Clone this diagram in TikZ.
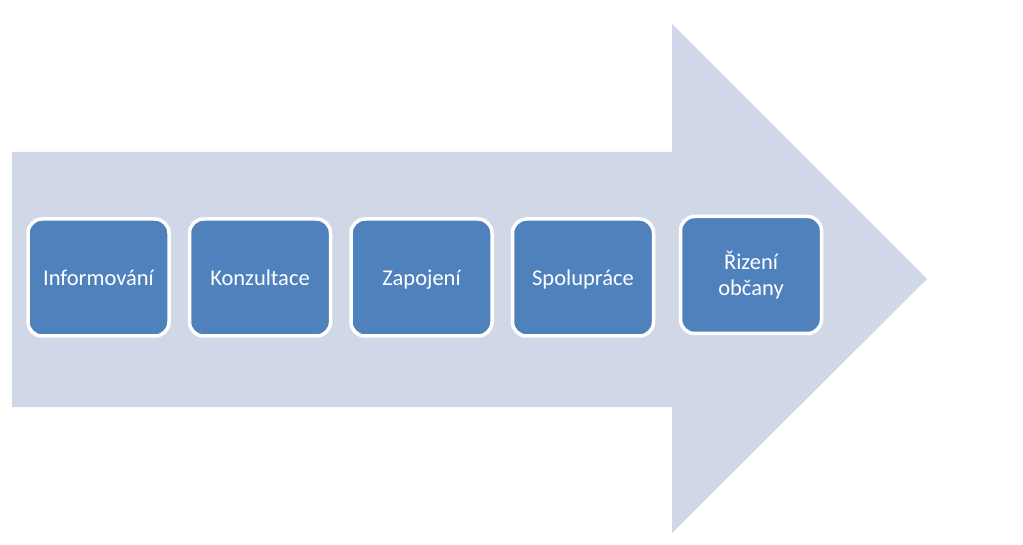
\documentclass[tikz,border=0pt]{standalone}
\usepackage{fontspec}
\setmainfont{Carlito}
\usetikzlibrary{positioning}
\definecolor{arrowgray}{HTML}{D0D8E8}
\definecolor{stageblue}{HTML}{4F81BD}

\begin{document}
\begin{tikzpicture}[x=1pt,y=-1pt,node distance=161.5pt,on grid,
	stagebox/.style={draw=white,line width=3.5pt,fill=stageblue,rounded corners=14pt,
		minimum width=141pt,minimum height=117pt,text width=130pt,align=center,
		text=white,font=\fontsize{22.5}{26}\selectfont},
	oneline/.style={text height=18pt,text depth=1pt}]
	\useasboundingbox (0,0) rectangle (1023,545);
	% big background arrow
	\fill[arrowgray] (12,152) -- (672,152) -- (672,24) -- (927,279)
		-- (672,533) -- (672,407) -- (12,407) -- cycle;

	\node[stagebox,oneline] (informovani) at (98.5,277.5) {Informování};
	\node[stagebox,oneline] (konzultace) [right=of informovani] {Konzultace};
	\node[stagebox,oneline] (zapojeni) [right=of konzultace] {Zapojení};
	\node[stagebox,oneline] (spoluprace) [right=of zapojeni] {Spolupráce};
	\node[stagebox,yshift=2.5pt] (rizeni) [right=168pt of spoluprace] {Řizení\\občany};
\end{tikzpicture}
\end{document}
